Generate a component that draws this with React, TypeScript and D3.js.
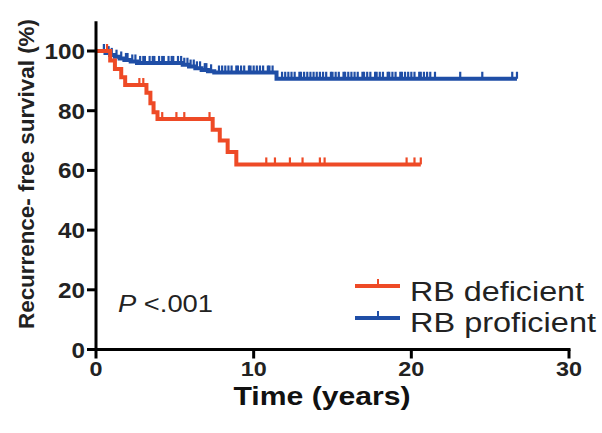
import React from 'react';
import * as d3 from 'd3';

// Kaplan-Meier steps
const redTimes = [0, 0.9, 1.2, 1.6, 1.85, 3.2, 3.45, 3.65, 3.9, 7.4, 7.85, 8.35, 8.9];
const redSurv = [100, 96.8, 94.0, 91.2, 88.6, 86.0, 82.5, 79.5, 77.2, 73.6, 70.0, 66.2, 62.0];
const redEnd = 20.6;
const redCensor = [0.7, 2.75, 3.0, 4.2, 5.1, 5.6, 7.2, 10.8, 11.35, 12.3, 13.1, 14.2, 14.5, 19.7, 20.2, 20.6];

const blueTimes = [0, 0.6, 0.9, 1.2, 1.5, 1.8, 2.2, 2.6, 5.5, 5.9, 6.3, 6.7, 7.1, 7.5, 11.45];
const blueSurv = [100, 99.3, 98.7, 98.1, 97.5, 97.0, 96.5, 96.0, 95.4, 94.8, 94.2, 93.6, 93.2, 92.8, 90.7];
const blueEnd = 26.7;
const blueCensor = [
  0.5, 0.8, 1.0, 1.3, 1.6, 1.9, 2.0, 2.3, 2.5, 2.8, 3.0, 3.1, 3.4, 3.6, 3.7, 4.0, 4.2, 4.3,
  4.6, 4.8, 4.9, 5.2, 5.4, 5.6, 5.8, 6.0, 6.2, 6.4, 6.6, 6.9, 7.0, 7.3, 7.8, 8.0, 8.2, 8.4,
  8.6, 8.9, 9.0, 9.2, 9.4, 9.7, 9.8, 10.0, 10.2, 10.4, 10.6, 10.9, 11.0, 11.2, 11.8, 12.0,
  12.2, 12.4, 12.6, 12.9, 13.0, 13.2, 13.4, 13.6, 13.8, 14.0, 14.2, 14.4, 14.6, 14.9, 15.0,
  15.2, 15.4, 15.7, 15.8, 16.0, 16.2, 16.4, 16.6, 16.9, 17.0, 17.2, 17.4, 17.7, 17.8, 18.0,
  18.2, 18.5, 18.6, 18.8, 19.0, 19.3, 19.4, 19.6, 19.8, 20.0, 20.2, 20.5, 20.6, 20.8, 21.0,
  21.2, 21.5, 23.1, 24.5, 26.4, 26.7,
];

const xTicks = [0, 10, 20, 30];
const yTicks = [0, 20, 40, 60, 80, 100];

const RED = '#ee4a26';
const BLUE = '#1f4ea6';

function stepPath(times: number[], surv: number[], end: number, x: any, y: any) {
  const pts: [number, number][] = times.map((t, i) => [t, surv[i]]);
  pts.push([end, surv[surv.length - 1]]);
  const line = d3.line<[number, number]>()
    .x(d => x(d[0]))
    .y(d => y(d[1]))
    .curve(d3.curveStepAfter);
  return line(pts) || '';
}

function survAt(times: number[], surv: number[], t: number) {
  let v = surv[0];
  for (let i = 0; i < times.length; i++) if (times[i] <= t) v = surv[i];
  return v;
}

export default function App() {
  const W = 602, H = 433;
  const x = d3.scaleLinear().domain([0, 30]).range([96, 569]);
  const y = d3.scaleLinear().domain([0, 100]).range([349.5, 51]);
  const font = 'Liberation Sans, Arial, Helvetica, sans-serif';

  const censorMarks = (times: number[], surv: number[], cens: number[], color: string) =>
    cens.map((t, i) => {
      const cx = x(t), cy = y(survAt(times, surv, t));
      return <line key={i} x1={cx} x2={cx} y1={cy} y2={cy - 7} stroke={color} strokeWidth={2.2} />;
    });

  return (
    <svg width={W} height={H} style={{ position: 'absolute', left: 0, top: 0 }} fontFamily={font}>
      <rect width={W} height={H} fill="#fff" />
      {/* curves */}
      <path d={stepPath(blueTimes, blueSurv, blueEnd, x, y)} fill="none" stroke={BLUE} strokeWidth={4} />
      {censorMarks(blueTimes, blueSurv, blueCensor, BLUE)}
      <path d={stepPath(redTimes, redSurv, redEnd, x, y)} fill="none" stroke={RED} strokeWidth={4} />
      {censorMarks(redTimes, redSurv, redCensor, RED)}

      {/* axes */}
      <line x1={x(0)} x2={x(0)} y1={y(110)} y2={y(0) + 1.5} stroke="#000" strokeWidth={3} />
      <line x1={x(0) - 1.5} x2={x(30) + 1.5} y1={y(0)} y2={y(0)} stroke="#000" strokeWidth={3} />
      {yTicks.map(t => (
        <g key={t}>
          <line x1={x(0) - 9} x2={x(0)} y1={y(t)} y2={y(t)} stroke="#000" strokeWidth={3} />
          <text x={x(0) - 11} y={y(t) + 8} textAnchor="end" fontSize={22} fontWeight="bold" fill="#222"
            textLength={String(t).length * 13.5} lengthAdjust="spacingAndGlyphs">{t}</text>
        </g>
      ))}
      {xTicks.map(t => (
        <g key={t}>
          <line x1={x(t)} x2={x(t)} y1={y(0)} y2={y(0) + 9} stroke="#000" strokeWidth={3} />
          <text x={x(t)} y={y(0) + 26} textAnchor="middle" fontSize={21} fontWeight="bold" fill="#222"
            textLength={String(t).length * 13} lengthAdjust="spacingAndGlyphs">{t}</text>
        </g>
      ))}
      <text x={322} y={405} textAnchor="middle" fontSize={26} fontWeight="bold" fill="#111"
        textLength={177} lengthAdjust="spacingAndGlyphs">Time (years)</text>
      <text transform="translate(34,174) rotate(-90)" textAnchor="middle" fontSize={22} fontWeight="bold" fill="#222"
        textLength={310} lengthAdjust="spacingAndGlyphs">
        Recurrence- free survival (%)
      </text>

      <text x={118} y={312} fontSize={23} fill="#222" textLength={95} lengthAdjust="spacingAndGlyphs">
        <tspan fontStyle="italic">P</tspan> &lt;.001
      </text>

      {/* legend */}
      <line x1={355} x2={400} y1={286} y2={286} stroke={RED} strokeWidth={4} />
      <line x1={378} x2={378} y1={286} y2={279} stroke={RED} strokeWidth={2} />
      <text x={410} y={301} fontSize={27} fill="#222" textLength={174} lengthAdjust="spacingAndGlyphs">RB deficient</text>
      <line x1={355} x2={400} y1={318} y2={318} stroke={BLUE} strokeWidth={4} />
      <line x1={378} x2={378} y1={318} y2={311} stroke={BLUE} strokeWidth={2} />
      <text x={410} y={332} fontSize={27} fill="#222" textLength={186} lengthAdjust="spacingAndGlyphs">RB proficient</text>
    </svg>
  );
}
